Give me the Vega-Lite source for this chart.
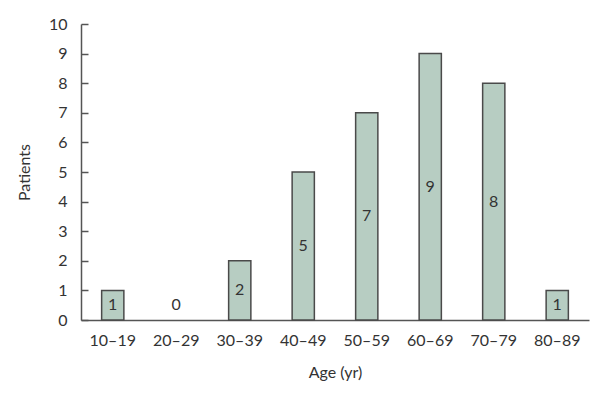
{
  "$schema": "https://vega.github.io/schema/vega-lite/v6.json",
  "width": 508,
  "height": 296,
  "autosize": {"type": "none"},
  "padding": {"left": 81, "top": 24, "right": 16, "bottom": 79},
  "background": "white",
  "data": {"values": [
    {"Age": "10–19", "Patients": 1},
    {"Age": "20–29", "Patients": 0},
    {"Age": "30–39", "Patients": 2},
    {"Age": "40–49", "Patients": 5},
    {"Age": "50–59", "Patients": 7},
    {"Age": "60–69", "Patients": 9},
    {"Age": "70–79", "Patients": 8},
    {"Age": "80–89", "Patients": 1}
  ]},
  "encoding": {
    "x": {
      "field": "Age", "type": "nominal",
      "sort": ["10–19", "20–29", "30–39", "40–49", "50–59", "60–69", "70–79", "80–89"],
      "scale": {"paddingInner": 0.65, "paddingOuter": 0.325},
      "axis": {"title": "Age (yr)", "labelAngle": 0, "ticks": false, "labelPadding": 12, "titlePadding": 16}
    }
  },
  "layer": [
    {
      "transform": [{"filter": "datum.Patients > 0"}],
      "mark": {"type": "bar", "fill": "#b7cdc2", "stroke": "#4a4a4a", "strokeWidth": 1.5},
      "encoding": {
        "y": {
          "field": "Patients", "type": "quantitative",
          "scale": {"domain": [0, 10], "nice": false},
          "axis": {"title": "Patients", "values": [0,1,2,3,4,5,6,7,8,9,10], "labelOverlap": false, "tickSize": -7, "labelPadding": 21, "grid": false, "titlePadding": 16}
        }
      }
    },
    {
      "transform": [{"calculate": "max(datum.Patients / 2, 0.5)", "as": "labelPos"}],
      "mark": {"type": "text", "fontSize": 16, "font": "Lato", "color": "#333333", "baseline": "middle"},
      "encoding": {
        "y": {"field": "labelPos", "type": "quantitative",
          "axis": {"title": "Patients", "values": [0,1,2,3,4,5,6,7,8,9,10], "labelOverlap": false, "tickSize": -7, "labelPadding": 21, "grid": false, "titlePadding": 16}},
        "text": {"field": "Patients", "type": "quantitative"}
      }
    }
  ],
  "config": {
    "view": {"stroke": null},
    "axis": {
      "domainColor": "#555555", "domainWidth": 1.5, "tickColor": "#555555", "tickWidth": 1.5,
      "labelFont": "Lato", "labelFontSize": 16, "labelColor": "#333333",
      "titleFont": "Lato", "titleFontSize": 16, "titleFontWeight": "normal", "titleColor": "#333333"
    }
  }
}
